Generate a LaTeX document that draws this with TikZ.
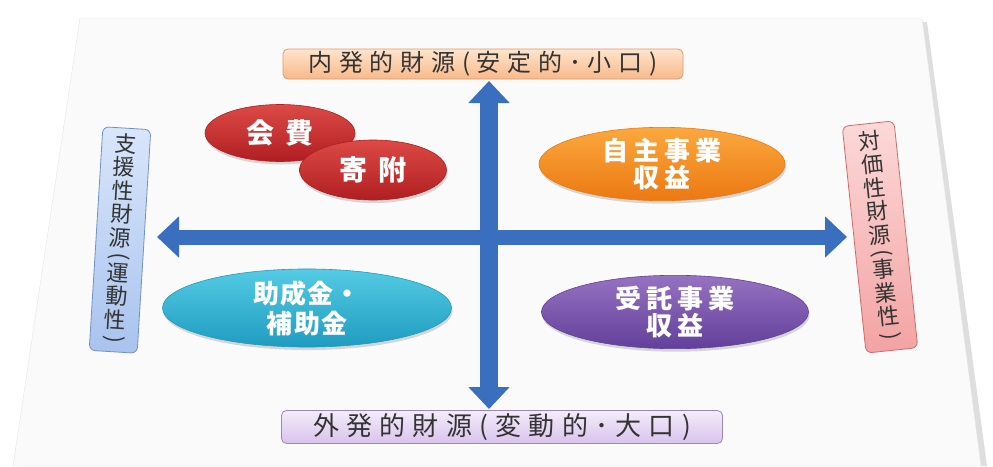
\documentclass[tikz,border=0pt]{standalone}
\usepackage{fontspec}
\setmainfont{Noto Sans CJK JP}
\usetikzlibrary{arrows.meta,shapes.geometric,shadows}

\definecolor{pagegray}{HTML}{FAFAFA}
\definecolor{arrowblue}{HTML}{3A6FC0}
\definecolor{redtop}{HTML}{DC4A46}
\definecolor{redbot}{HTML}{B01E22}
\definecolor{orangetop}{HTML}{FBA83E}
\definecolor{orangebot}{HTML}{EC7812}
\definecolor{cyantop}{HTML}{55CBE4}
\definecolor{cyanbot}{HTML}{1E9CC0}
\definecolor{purpletop}{HTML}{9672C2}
\definecolor{purplebot}{HTML}{62409A}
\definecolor{peachtop}{HTML}{FDE4CC}
\definecolor{peachbot}{HTML}{F8B98A}
\definecolor{peachline}{HTML}{E0996A}
\definecolor{lavtop}{HTML}{F4ECFA}
\definecolor{lavbot}{HTML}{D8C3EC}
\definecolor{lavline}{HTML}{9C86BC}
\definecolor{bluetop}{HTML}{D8E6FA}
\definecolor{bluebot}{HTML}{A9C3EE}
\definecolor{blueline}{HTML}{7090C8}
\definecolor{pinktop}{HTML}{FCD8D8}
\definecolor{pinkbot}{HTML}{F3A3A3}
\definecolor{pinkline}{HTML}{D06A6A}
\definecolor{textgray}{HTML}{333333}

\tikzset{
  oval/.style={ellipse,inner sep=0pt,align=center,text=white,
    line width=0.6pt,
    font=\bfseries\fontsize{26}{27}\selectfont,
    drop shadow={opacity=0.3,shadow xshift=1pt,shadow yshift=-3pt}},
  headbox/.style={rectangle,rounded corners=5pt,draw,line width=0.8pt,
    inner sep=0pt,text=textgray},
  sidebox/.style={rectangle,rounded corners=6pt,draw,line width=0.8pt,
    inner sep=0pt,align=center,text=textgray,
    font=\fontsize{22}{23.5}\selectfont},
  axisarrow/.style={draw=arrowblue,
    {Triangle[length=22pt,width=40pt]}-{Triangle[length=22pt,width=40pt]}}
}

\newcommand{\vopen}{\smash{\rotatebox[origin=c]{-90}{(}}}
\newcommand{\vclose}{\smash{\rotatebox[origin=c]{-90}{)}}}

\begin{document}
\begin{tikzpicture}[x=1pt,y=-1pt]
  \useasboundingbox (0,0) rectangle (993,466);
  \fill[black!13] (84,22) -- (927,22) -- (987,466) -- (17,466) -- cycle;
  \fill[pagegray,draw=black!10] (80,18) -- (922,18) -- (981,466) -- (13,466) -- cycle;

  \node[headbox,top color=peachtop,bottom color=peachbot,draw=peachline,
    minimum width=400,minimum height=30,
    font=\fontsize{24}{26}\selectfont\addfontfeature{LetterSpace=28}]
    (inner) at (483,64) {内発的財源(安定的･小口)};
  \node[headbox,top color=lavtop,bottom color=lavbot,draw=lavline,
    minimum width=441,minimum height=33,
    font=\fontsize{26}{28}\selectfont\addfontfeature{LetterSpace=28}]
    (outer) at (502,427) {外発的財源(変動的･大口)};
  \node[sidebox,top color=bluetop,bottom color=bluebot,draw=blueline,
    minimum width=48,minimum height=224,rotate=-3.5]
    (support) at (120,240)
    {支\\援\\性\\財\\源\\[-6pt]\vopen\\[-6pt]運\\動\\性\\[-5pt]\vclose};
  \node[sidebox,top color=pinktop,bottom color=pinkbot,draw=pinkline,
    minimum width=52,minimum height=228,rotate=6]
    (price) at (880,237)
    {対\\価\\性\\財\\源\\[-6pt]\vopen\\[-6pt]事\\業\\性\\[-5pt]\vclose};

  \coordinate (west) at (157,237);
  \coordinate (east) at (847,237);
  \coordinate (north) at (489,81);
  \coordinate (south) at (489,409);
  \draw[axisarrow,line width=15pt] (west) -- (east);
  \draw[axisarrow,line width=18pt] (north) -- (south);

  \node[oval,top color=redtop,bottom color=redbot,draw=redbot,
    font=\bfseries\fontsize{28}{28}\selectfont,
    minimum width=150,minimum height=57] (fee) at (280,133) {会\hspace{12pt}費};
  \node[oval,top color=redtop,bottom color=redbot,draw=redbot,
    font=\bfseries\fontsize{28}{28}\selectfont,
    minimum width=147,minimum height=60] (gift) at (373,170) {寄\hspace{12pt}附};
  \node[oval,top color=orangetop,bottom color=orangebot,draw=orangebot,
    font=\bfseries\fontsize{26}{27}\selectfont\addfontfeature{LetterSpace=18},
    minimum width=246,minimum height=69] (self) at (662,164) {自主事業\\収益};
  \node[oval,top color=cyantop,bottom color=cyanbot,draw=cyanbot,
    font=\bfseries\fontsize{26}{30}\selectfont\addfontfeature{LetterSpace=4},
    minimum width=289,minimum height=65] (grant) at (307,308) {助成金・\\補助金};
  \node[oval,top color=purpletop,bottom color=purplebot,draw=purplebot,
    font=\bfseries\fontsize{26}{27}\selectfont\addfontfeature{LetterSpace=20},
    minimum width=267,minimum height=68] (contract) at (675,312) {受託事業\\収益};
\end{tikzpicture}
\end{document}
